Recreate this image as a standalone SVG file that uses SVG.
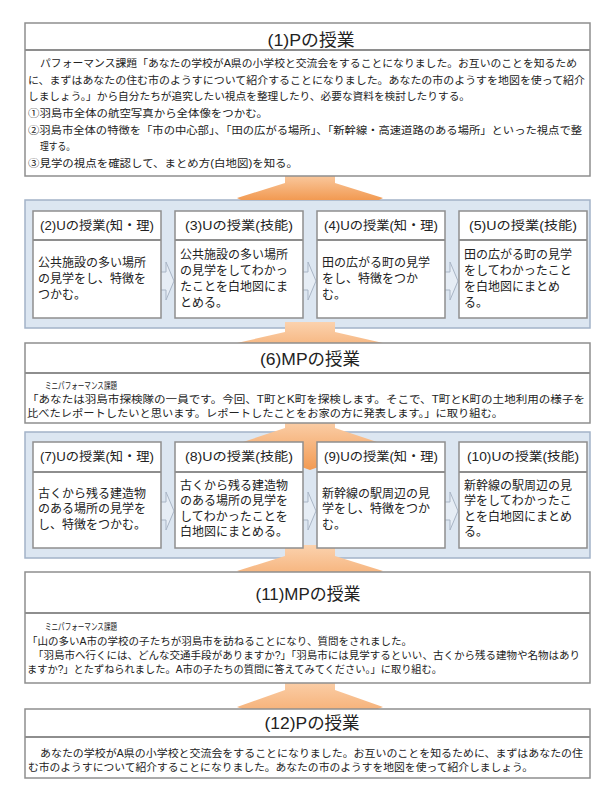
<svg xmlns="http://www.w3.org/2000/svg" width="604" height="792" viewBox="0 0 604 792">
<defs>
<linearGradient id="og" x1="0" y1="0" x2="0" y2="1">
<stop offset="0" stop-color="#fbd2ae"/>
<stop offset="1" stop-color="#f29a52"/>
</linearGradient>
<style>
.bg{fill:#ffffff}
.box{fill:#ffffff;stroke:#8e8e8e;stroke-width:1.5}
.sep{stroke:#8e8e8e;stroke-width:2.2}
.cont{fill:#dce6f1;stroke:#a3b3c8;stroke-width:1.5}
.arrow{fill:url(#og)}
.chev{fill:#e6edf5;stroke:#a9b5c5;stroke-width:1}
text{font-family:"Liberation Sans","Noto Sans CJK JP",sans-serif;fill:#222222}
.title{font-size:17px;text-anchor:middle}
.sub{font-size:12.5px;text-anchor:middle}
.body{font-size:10.5px}
.cell{font-size:12px}
.small{font-size:9.5px}
</style>
</defs>
<rect class="bg" x="0" y="0" width="604" height="792"/>

<g id="containers">
<rect id="row1" class="cont" x="25" y="200" width="565" height="128"/>
<rect id="row2" class="cont" x="25" y="432" width="565" height="126"/>
</g>

<g id="connectors">
<polygon class="arrow" points="285,170 285,183 237,198 241,200 379,200 383,198 335,183 335,170"/>
<polygon class="arrow" points="285,322 285,332 237,343 310,370 383,343 335,332 335,322"/>
<polygon class="arrow" points="285,418 285,428 237,444 310,470 383,444 335,428 335,418"/>
<polygon class="arrow" points="285,545 285,556 237,571 310,600 383,571 335,556 335,545"/>
<polygon class="arrow" points="285,678 285,690 237,707 310,735 383,707 335,690 335,678"/>
<polygon class="chev" points="156,272 166,272 166,262 174,281 166,300 166,290 156,290"/>
<polygon class="chev" points="298,272 308,272 308,262 316,281 308,300 308,290 298,290"/>
<polygon class="chev" points="440,272 450,272 450,262 458,281 450,300 450,290 440,290"/>
<polygon class="chev" points="156,502 166,502 166,492 174,511 166,530 166,520 156,520"/>
<polygon class="chev" points="298,502 308,502 308,492 316,511 308,530 308,520 298,520"/>
<polygon class="chev" points="440,502 450,502 450,492 458,511 450,530 450,520 440,520"/>
</g>

<g id="n1">
<rect class="box" x="25" y="23" width="565" height="153"/>
<line class="sep" x1="25" y1="50" x2="590" y2="50"/>
<text class="title" x="311" y="46" textLength="87" lengthAdjust="spacingAndGlyphs">(1)Pの授業</text>
<text class="body" x="40" y="67" textLength="537" lengthAdjust="spacingAndGlyphs">パフォーマンス課題「あなたの学校がA県の小学校と交流会をすることになりました。お互いのことを知るため</text>
<text class="body" x="28" y="84" textLength="557" lengthAdjust="spacingAndGlyphs">に、まずはあなたの住む市のようすについて紹介することになりました。あなたの市のようすを地図を使って紹介</text>
<text class="body" x="28" y="100" textLength="442" lengthAdjust="spacingAndGlyphs">しましょう。」から自分たちが追究したい視点を整理したり、必要な資料を検討したりする。</text>
<text class="body" x="28" y="117" textLength="240" lengthAdjust="spacingAndGlyphs">①羽島市全体の航空写真から全体像をつかむ。</text>
<text class="body" x="28" y="134" textLength="554" lengthAdjust="spacingAndGlyphs">②羽島市全体の特徴を「市の中心部」、「田の広がる場所」、「新幹線・高速道路のある場所」といった視点で整</text>
<text class="body" x="40" y="150" textLength="35" lengthAdjust="spacingAndGlyphs">理する。</text>
<text class="body" x="28" y="167" textLength="270" lengthAdjust="spacingAndGlyphs">③見学の視点を確認して、まとめ方(白地図)を知る。</text>
</g>

<g id="n2">
<rect class="box" x="33" y="211" width="128" height="107"/>
<line class="sep" x1="33" y1="240" x2="161" y2="240"/>
<text class="sub" x="97" y="230" textLength="114" lengthAdjust="spacingAndGlyphs">(2)Uの授業(知・理)</text>
<text class="cell" x="38" y="267">公共施設の多い場所</text>
<text class="cell" x="38" y="283">の見学をし、特徴を</text>
<text class="cell" x="38" y="299">つかむ。</text>
</g>
<g id="n3">
<rect class="box" x="175" y="211" width="128" height="107"/>
<line class="sep" x1="175" y1="240" x2="303" y2="240"/>
<text class="sub" x="239" y="230" textLength="108" lengthAdjust="spacingAndGlyphs">(3)Uの授業(技能)</text>
<text class="cell" x="180" y="259">公共施設の多い場所</text>
<text class="cell" x="180" y="275">の見学をしてわかっ</text>
<text class="cell" x="180" y="291">たことを白地図にま</text>
<text class="cell" x="180" y="307">とめる。</text>
</g>
<g id="n4">
<rect class="box" x="317" y="211" width="128" height="107"/>
<line class="sep" x1="317" y1="240" x2="445" y2="240"/>
<text class="sub" x="381" y="230" textLength="114" lengthAdjust="spacingAndGlyphs">(4)Uの授業(知・理)</text>
<text class="cell" x="322" y="267">田の広がる町の見学</text>
<text class="cell" x="322" y="283">をし、特徴をつか</text>
<text class="cell" x="322" y="299">む。</text>
</g>
<g id="n5">
<rect class="box" x="459" y="211" width="128" height="107"/>
<line class="sep" x1="459" y1="240" x2="587" y2="240"/>
<text class="sub" x="523" y="230" textLength="108" lengthAdjust="spacingAndGlyphs">(5)Uの授業(技能)</text>
<text class="cell" x="464" y="259">田の広がる町の見学</text>
<text class="cell" x="464" y="275">をしてわかったこと</text>
<text class="cell" x="464" y="291">を白地図にまとめ</text>
<text class="cell" x="464" y="307">る。</text>
</g>

<g id="n6">
<rect class="box" x="25" y="343" width="565" height="80"/>
<line class="sep" x1="25" y1="373" x2="590" y2="373"/>
<text class="title" x="310" y="365" textLength="100" lengthAdjust="spacingAndGlyphs">(6)MPの授業</text>
<text class="small" x="45" y="389" textLength="72" lengthAdjust="spacingAndGlyphs">ミニパフォーマンス課題</text>
<text class="body" x="27" y="403" textLength="558" lengthAdjust="spacingAndGlyphs">「あなたは羽島市探検隊の一員です。今回、T町とK町を探検します。そこで、T町とK町の土地利用の様子を</text>
<text class="body" x="27" y="417" textLength="476" lengthAdjust="spacingAndGlyphs">比べたレポートしたいと思います。レポートしたことをお家の方に発表します。」に取り組む。</text>
</g>

<g id="n7">
<rect class="box" x="33" y="442" width="128" height="106"/>
<line class="sep" x1="33" y1="472" x2="161" y2="472"/>
<text class="sub" x="97" y="461" textLength="114" lengthAdjust="spacingAndGlyphs">(7)Uの授業(知・理)</text>
<text class="cell" x="38" y="498">古くから残る建造物</text>
<text class="cell" x="38" y="513">のある場所の見学を</text>
<text class="cell" x="38" y="529">し、特徴をつかむ。</text>
</g>
<g id="n8">
<rect class="box" x="175" y="442" width="128" height="106"/>
<line class="sep" x1="175" y1="472" x2="303" y2="472"/>
<text class="sub" x="239" y="461" textLength="108" lengthAdjust="spacingAndGlyphs">(8)Uの授業(技能)</text>
<text class="cell" x="180" y="490">古くから残る建造物</text>
<text class="cell" x="180" y="505">のある場所の見学を</text>
<text class="cell" x="180" y="521">してわかったことを</text>
<text class="cell" x="180" y="536">白地図にまとめる。</text>
</g>
<g id="n9">
<rect class="box" x="317" y="442" width="128" height="106"/>
<line class="sep" x1="317" y1="472" x2="445" y2="472"/>
<text class="sub" x="381" y="461" textLength="114" lengthAdjust="spacingAndGlyphs">(9)Uの授業(知・理)</text>
<text class="cell" x="322" y="498">新幹線の駅周辺の見</text>
<text class="cell" x="322" y="513">学をし、特徴をつか</text>
<text class="cell" x="322" y="529">む。</text>
</g>
<g id="n10">
<rect class="box" x="459" y="442" width="128" height="106"/>
<line class="sep" x1="459" y1="472" x2="587" y2="472"/>
<text class="sub" x="523" y="461" textLength="112" lengthAdjust="spacingAndGlyphs">(10)Uの授業(技能)</text>
<text class="cell" x="464" y="490">新幹線の駅周辺の見</text>
<text class="cell" x="464" y="505">学をしてわかったこ</text>
<text class="cell" x="464" y="521">とを白地図にまとめ</text>
<text class="cell" x="464" y="536">る。</text>
</g>

<g id="n11">
<rect class="box" x="25" y="572" width="565" height="111"/>
<line class="sep" x1="25" y1="613" x2="590" y2="613"/>
<text class="title" x="308" y="600" textLength="105" lengthAdjust="spacingAndGlyphs">(11)MPの授業</text>
<text class="small" x="45" y="630" textLength="72" lengthAdjust="spacingAndGlyphs">ミニパフォーマンス課題</text>
<text class="body" x="27" y="645" textLength="385" lengthAdjust="spacingAndGlyphs">「山の多いA市の学校の子たちが羽島市を訪ねることになり、質問をされました。</text>
<text class="body" x="33" y="659" font-size="10" textLength="547" lengthAdjust="spacingAndGlyphs">「羽島市へ行くには、どんな交通手段がありますか?」「羽島市には見学するといい、古くから残る建物や名物はあり</text>
<text class="body" x="27" y="673" textLength="415" lengthAdjust="spacingAndGlyphs">ますか?」とたずねられました。A市の子たちの質問に答えてみてください。」に取り組む。</text>
</g>

<g id="n12">
<rect class="box" x="25" y="709" width="565" height="69"/>
<line class="sep" x1="25" y1="737" x2="590" y2="737"/>
<text class="title" x="312" y="729" textLength="95" lengthAdjust="spacingAndGlyphs">(12)Pの授業</text>
<text class="body" x="40" y="757" textLength="543" lengthAdjust="spacingAndGlyphs">あなたの学校がA県の小学校と交流会をすることになりました。お互いのことを知るために、まずはあなたの住</text>
<text class="body" x="28" y="771" textLength="505" lengthAdjust="spacingAndGlyphs">む市のようすについて紹介することになりました。あなたの市のようすを地図を使って紹介しましょう。</text>
</g>
</svg>
